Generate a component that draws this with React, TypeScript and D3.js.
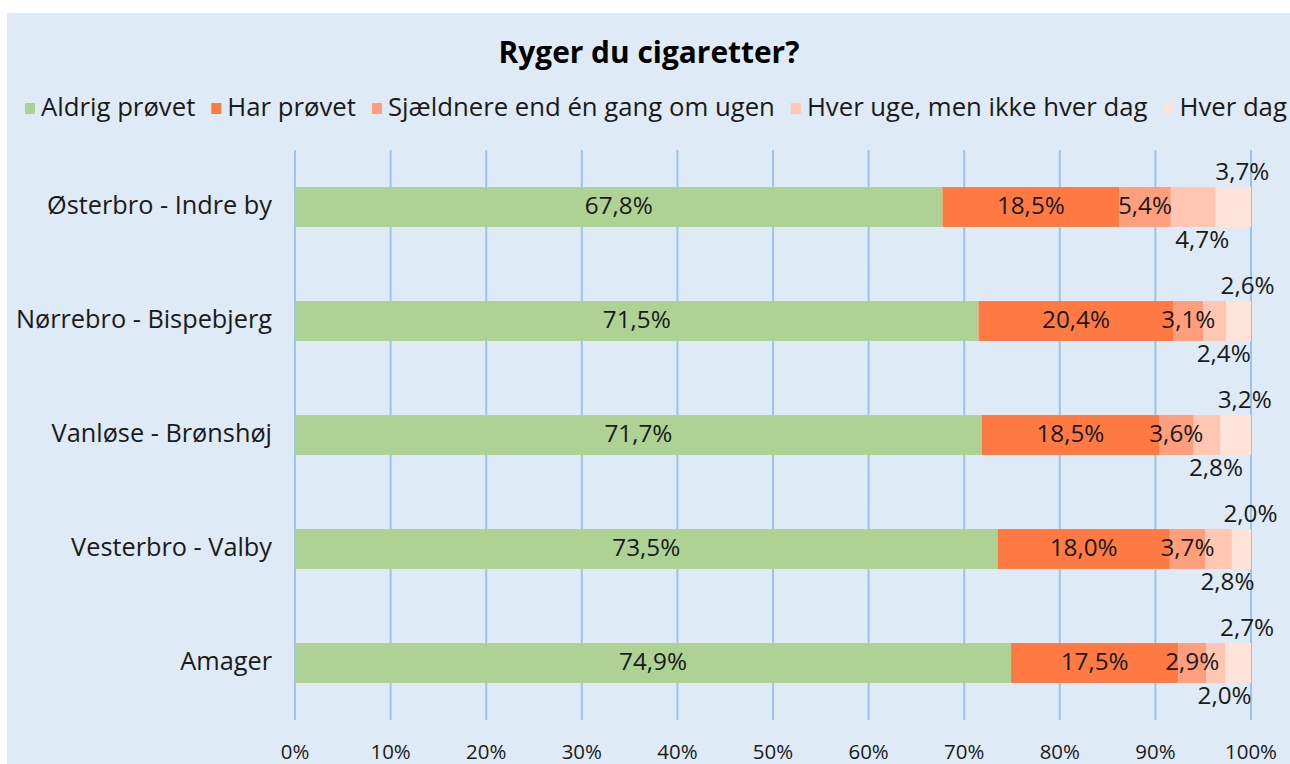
import React from 'react'
import * as d3 from 'd3'

const categories = ['Østerbro - Indre by', 'Nørrebro - Bispebjerg', 'Vanløse - Brønshøj', 'Vesterbro - Valby', 'Amager']
const seriesNames = ['Aldrig prøvet', 'Har prøvet', 'Sjældnere end én gang om ugen', 'Hver uge, men ikke hver dag', 'Hver dag']
const aldrig = [67.8, 71.5, 71.7, 73.5, 74.9]
const harProvet = [18.5, 20.4, 18.5, 18.0, 17.5]
const sjaeldnere = [5.4, 3.1, 3.6, 3.7, 2.9]
const hverUge = [4.7, 2.4, 2.8, 2.8, 2.0]
const hverDag = [3.7, 2.6, 3.2, 2.0, 2.7]
const xTicks = [0, 10, 20, 30, 40, 50, 60, 70, 80, 90, 100]

const colors = ['#aed293', '#ff7a43', '#ff9e7c', '#ffc6b1', '#ffe2d8']
const FONT = '"Open Sans", Lato, sans-serif'

const fmt = (v: number) => v.toFixed(1).replace('.', ',') + '%'

const ctx = document.createElement('canvas').getContext('2d')
function measure(text: string, size: number, weight = 400) {
  if (!ctx) return text.length * size * 0.55
  ctx.font = `${weight} ${size}px ${FONT}`
  return ctx.measureText(text).width
}
// pick a font size so that a sample string gets the width seen in the picture
function fit(text: string, target: number, weight = 400) {
  return 20 * target / measure(text, 20, weight)
}

export default function App() {
  const width = 1290
  const height = 764
  const series = [aldrig, harProvet, sjaeldnere, hverUge, hverDag]

  const titleSize = fit('Ryger du cigaretter?', 301, 700)
  const catSize = fit('Østerbro - Indre by', 225)
  const labelSize = fit('67,8%', 68)
  const axisSize = fit('100%', 52)

  // legend: square 10px, 6px to text, 16px to next square, from x=25 to 1287
  const sq = 10, sqGap = 6, itemGap = 16
  const textRoom = (1287 - 25) - seriesNames.length * (sq + sqGap) - (seriesNames.length - 1) * itemGap
  const legendSize = 20 * textRoom / d3.sum(seriesNames, n => measure(n, 20))
  let lx = 25
  const legendItems = seriesNames.map((name, k) => {
    const item = { name, k, x: lx }
    lx += sq + sqGap + measure(name, legendSize) + itemGap
    return item
  })

  const x = d3.scaleLinear().domain([0, 100]).range([295, 1251])
  const y = d3.scaleBand<string>().domain(categories).range([150, 720])
    .paddingInner(0.65).paddingOuter(0.325)

  const rows = categories.map((c, i) => {
    const vals = series.map(s => s[i])
    const total = d3.sum(vals)
    let acc = 0
    return vals.map((v, k) => {
      const x0 = acc / total * 100
      acc += v
      return { cat: c, k, v, x0, x1: acc / total * 100 }
    })
  })

  const bh = y.bandwidth()

  return (
    <div style={{ position: 'absolute', left: 0, top: 0 }}>
      <svg width={width} height={height} style={{ display: 'block', fontFamily: FONT }}>
        <rect x={0} y={0} width={width} height={height} fill='#ffffff' />
        <rect x={7} y={13} width={width - 7} height={height - 13} fill='#deeaf6' />
        <text x={649} y={63} textAnchor='middle' fontSize={titleSize} fontWeight={700} fill='#000'>
          Ryger du cigaretter?
        </text>
        <g>
          {legendItems.map(it => (
            <g key={it.name}>
              <rect x={it.x} y={103} width={sq} height={11} fill={colors[it.k]} />
              <text x={it.x + sq + sqGap} y={116} fontSize={legendSize} fill='#1a1a1a'>{it.name}</text>
            </g>
          ))}
        </g>
        <g>
          {xTicks.map(t => (
            <g key={t}>
              <line x1={x(t)} x2={x(t)} y1={150} y2={720} stroke='#9dc3e6' strokeWidth={2} />
              <text x={x(t)} y={759} textAnchor='middle' fontSize={axisSize} fill='#1a1a1a'>{t}%</text>
            </g>
          ))}
        </g>
        {rows.map((segs, i) => {
          const cat = categories[i]
          const y0 = y(cat) as number
          const cy = y0 + bh / 2
          return (
            <g key={cat}>
              <text x={272} y={cy + 7} textAnchor='end' fontSize={catSize} fill='#1a1a1a'>{cat}</text>
              {segs.map(s => (
                <rect key={s.k} x={x(s.x0)} y={y0} width={x(s.x1) - x(s.x0)} height={bh} fill={colors[s.k]} />
              ))}
              {segs.map(s => {
                const mid = (x(s.x0) + x(s.x1)) / 2
                if (s.k < 3) {
                  return <text key={s.k} x={mid} y={cy + 7} textAnchor='middle' fontSize={labelSize} fill='#1a1a1a'>{fmt(s.v)}</text>
                }
                if (s.k === 3) {
                  return <text key={s.k} x={mid + 9} y={y0 + bh + 21} textAnchor='middle' fontSize={labelSize} fill='#1a1a1a'>{fmt(s.v)}</text>
                }
                return <text key={s.k} x={mid + 9} y={y0 - 7} textAnchor='middle' fontSize={labelSize} fill='#1a1a1a'>{fmt(s.v)}</text>
              })}
            </g>
          )
        })}
      </svg>
    </div>
  )
}
